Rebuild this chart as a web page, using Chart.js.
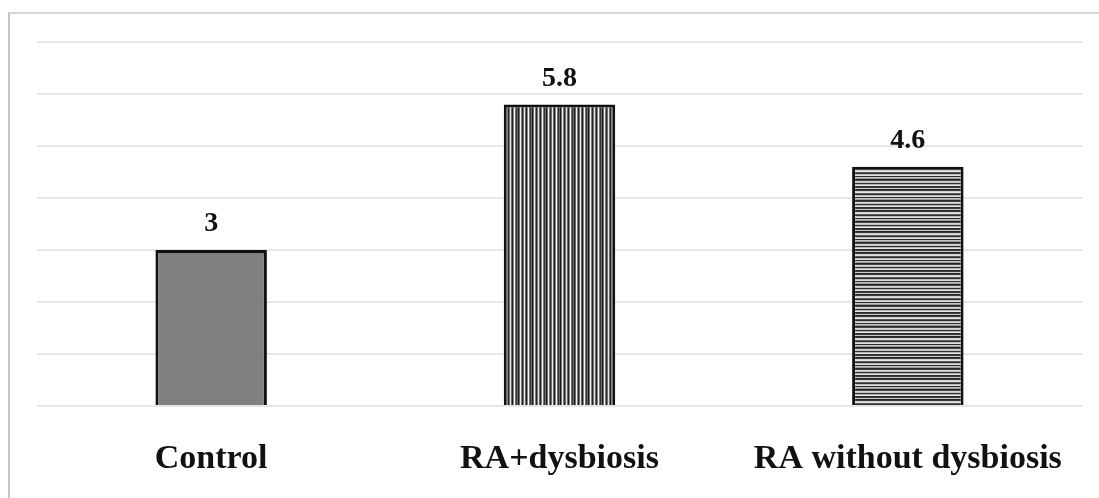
<!DOCTYPE html>
<html>
<head>
<meta charset="utf-8">
<script src="https://cdn.jsdelivr.net/npm/chart.js@4"></script>
<style>
  html, body { margin: 0; padding: 0; background: #fff; overflow: hidden; }
  #frame {
    position: absolute; left: 8px; top: 12px; width: 1091px; height: 486px;
    border-left: 2px solid #c4c4c4; border-top: 2px solid #d4d4d4;
  }
  #wrap { position: absolute; left: 0; top: 0; width: 1099px; height: 498px; }
</style>
</head>
<body>
<div id="frame"></div>
<div id="wrap"><canvas id="barChart"></canvas></div>
<script>
const categories = ['Control', 'RA+dysbiosis', 'RA without dysbiosis'];
const values = [3, 5.8, 4.6];
const valueLabels = ['3', '5.8', '4.6'];
const yTicks = [0, 1, 2, 3, 4, 5, 6, 7];

// stripe fills, drawn on small tiles
function stripes(colors, vertical) {
    const c = document.createElement('canvas');
    c.width = vertical ? colors.length : 1;
    c.height = vertical ? 1 : colors.length;
    const g = c.getContext('2d');
    colors.forEach((col, i) => {
        g.fillStyle = col;
        if (vertical) g.fillRect(i, 0, 1, 1);
        else g.fillRect(0, i, 1, 1);
    });
    return g.createPattern(c, 'repeat');
}

const vFill = stripes(['#1a1a1a', '#6e6e6e', '#f2f2f2', '#7c7c7c', '#2a2a2a',
                       '#707070', '#e8e8e8', '#6a6a6a', '#202020', '#868686',
                       '#f6f6f6', '#747474', '#333333', '#6c6c6c'], true);
const hFill = stripes(['#262626', '#3a3a3a', '#cfcfcf', '#e4e4e4', '#5a5a5a',
                       '#2e2e2e', '#bdbdbd', '#dedede', '#2a2a2a', '#c4c4c4',
                       '#9a9a9a', '#242424', '#444444', '#d8d8d8', '#c0c0c0',
                       '#303030', '#b0b0b0', '#e6e6e6', '#2c2c2c', '#3c3c3c',
                       '#cacaca'], false);

const ctx = document.getElementById('barChart');

const BarChart = new Chart(ctx, {
    type: 'bar',
    data: {
        labels: categories,
        datasets: [{
            data: values,
            backgroundColor: ['#808080', vFill, hFill],
            borderColor: '#111111',
            borderWidth: 3,
            barPercentage: 0.32,
            categoryPercentage: 1
        }]
    },
    plugins: [{
        id: 'valueLabels',
        afterDatasetsDraw: (chart) => {
            const { ctx } = chart;
            const meta = chart.getDatasetMeta(0);
            ctx.save();
            ctx.font = 'bold 28px "Liberation Serif", "Times New Roman", serif';
            ctx.fillStyle = '#111';
            ctx.textAlign = 'center';
            ctx.textBaseline = 'middle';
            meta.data.forEach((bar, i) => {
                ctx.fillText(valueLabels[i], bar.x, bar.y - 26);
            });
            ctx.restore();
        }
    }],
    options: {
        responsive: true,
        maintainAspectRatio: false,
        animation: false,
        layout: {
            padding: { left: 37, right: 17, top: 42, bottom: 0 }
        },
        plugins: {
            legend: { display: false },
            tooltip: { enabled: false }
        },
        scales: {
            x: {
                grid: { display: false, drawTicks: false },
                border: { display: false },
                ticks: {
                    color: '#111',
                    padding: 33,
                    font: { family: '"Liberation Serif", "Times New Roman", serif', size: 34, weight: 'bold' }
                },
                afterFit: (scale) => { scale.height = 92; }
            },
            y: {
                min: 0,
                max: 7,
                afterBuildTicks: (scale) => { scale.ticks = yTicks.map(v => ({ value: v })); },
                ticks: { display: false },
                grid: { color: '#e6e6e6', lineWidth: 2, drawTicks: false },
                border: { display: false }
            }
        }
    }
});
</script>
</body>
</html>
